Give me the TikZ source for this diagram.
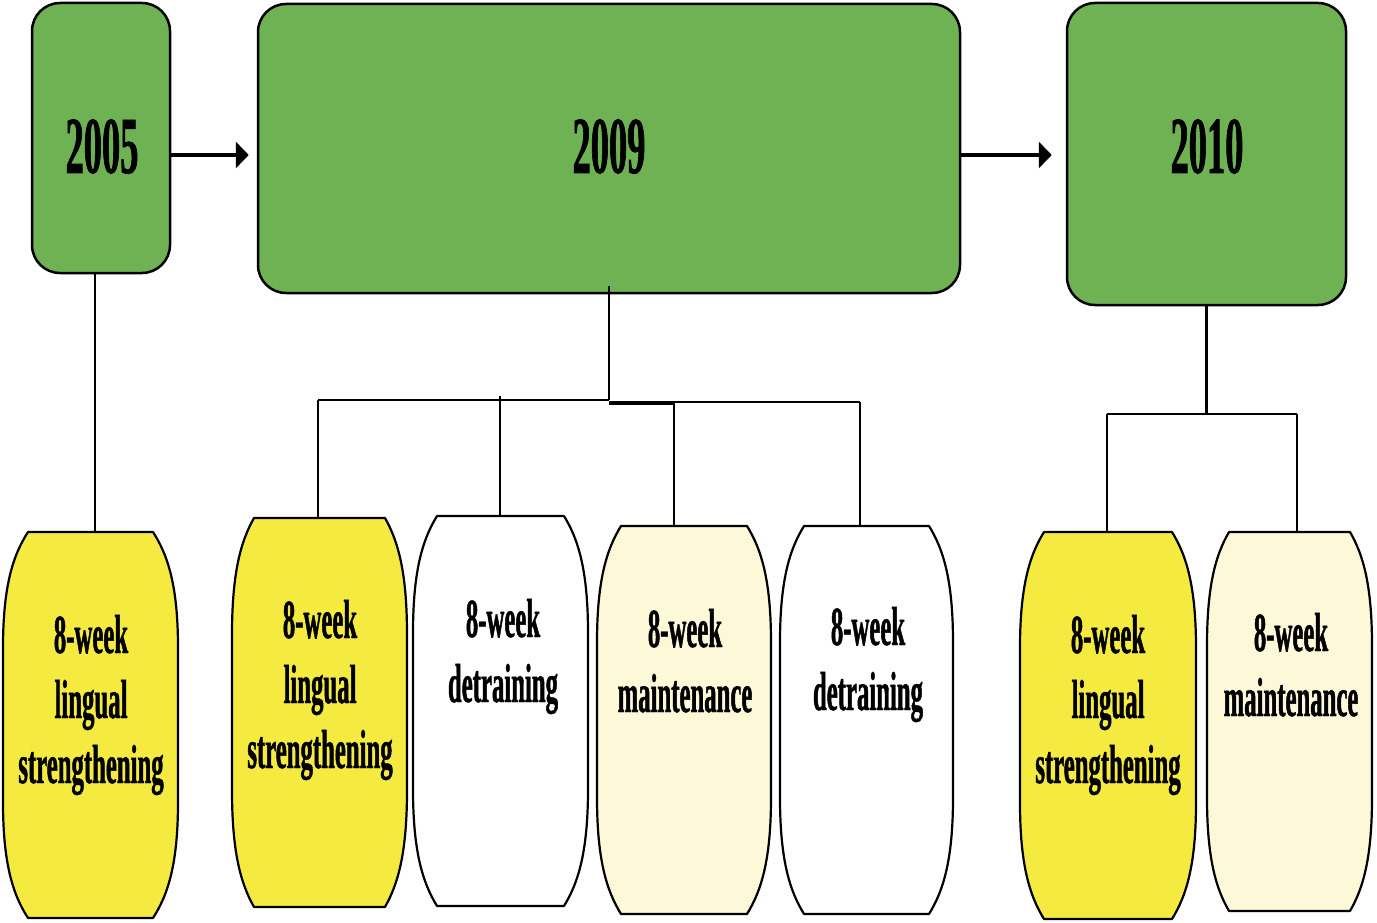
\documentclass[tikz,border=0pt]{standalone}
\usepackage{fontspec}
\newfontfamily\condbf[FakeStretch=0.45,FakeBold=0.8]{Liberation Serif Bold}
\usetikzlibrary{arrows.meta,calc}
\definecolor{boxgreen}{RGB}{111,178,84}
\definecolor{boxyellow}{RGB}{245,234,64}
\definecolor{boxcream}{RGB}{252,248,216}
% #1 xl, #2 xr, #3 top, #4 bottom, #5 inset, #6 fill, #7 name of top coordinate, #8 connector x
\newcommand\barrelshape[8]{%
  \pgfmathsetmacro\brlh{#4-#3}%
  \pgfmathsetmacro\brlxl{#1+#5}%
  \pgfmathsetmacro\brlxr{#2-#5}%
  \draw[barrel, fill=#6] (\brlxl,#3) -- (\brlxr,#3)
    .. controls (\brlxr+0.6*#5, #3+0.06*\brlh) and (#2, #3+0.14*\brlh) .. (#2, #3+0.3*\brlh)
    -- (#2, #4-0.3*\brlh)
    .. controls (#2, #4-0.14*\brlh) and (\brlxr+0.6*#5, #4-0.06*\brlh) .. (\brlxr,#4)
    -- (\brlxl,#4)
    .. controls (\brlxl-0.6*#5, #4-0.06*\brlh) and (#1, #4-0.14*\brlh) .. (#1, #4-0.3*\brlh)
    -- (#1, #3+0.3*\brlh)
    .. controls (#1, #3+0.14*\brlh) and (\brlxl-0.6*#5, #3+0.06*\brlh) .. cycle;
  \coordinate (#7) at (#8,#3);
}
\begin{document}
\begin{tikzpicture}[x=1pt,y=-1pt,
  yearbox/.style={draw=black, line width=2.5pt, fill=boxgreen, rounded corners=28pt, inner sep=0pt},
  yeartext/.style={inner sep=0pt, anchor=base, font=\condbf\fontsize{81}{90}\selectfont},
  barrel/.style={draw=black, line width=2.2pt, line join=round},
  steptext/.style={inner sep=0pt, anchor=base, font=\condbf\fontsize{55}{65}\selectfont},
  arr/.style={line width=4pt, -{Triangle[length=13pt,width=26pt]}},
  conn/.style={line width=1.6pt},
  connthick/.style={line width=2.8pt}]
\useasboundingbox (0,0) rectangle (1377,923);

% year boxes
\node[yearbox, minimum width=138pt, minimum height=270pt] (y2005) at (101,138) {};
\node[yearbox, minimum width=702pt, minimum height=289pt] (y2009) at (609,148.5) {};
\node[yearbox, minimum width=279pt, minimum height=302pt] (y2010) at (1206.5,154) {};
\node[yeartext] (t2005) at (102,173) {2005};
\node[yeartext] (t2009) at (609,173) {2009};
\node[yeartext] (t2010) at (1207,173) {2010};

% arrows
\coordinate (ay) at (0,155);
\draw[arr] (y2005.east |- ay) -- ($(y2009.west |- ay)+(-8,0)$);
\draw[arr] (y2009.east |- ay) -- ($(y2010.west |- ay)+(-14,0)$);

% barrels
\barrelshape{3}{178}{532}{918}{25}{boxyellow}{b1top}{95}
\barrelshape{232}{407}{518}{907}{22}{boxyellow}{b2top}{318}
\barrelshape{413}{588}{516}{906}{24}{white}{b3top}{500}
\barrelshape{597}{771}{526}{914}{24}{boxcream}{b4top}{674}
\barrelshape{780}{953}{526}{914}{24}{white}{b5top}{860}
\barrelshape{1020}{1196}{532}{919}{24}{boxyellow}{b6top}{1107}
\barrelshape{1207}{1372}{532}{911}{22}{boxcream}{b7top}{1297}

% barrel texts
\node[steptext] (s1) at (91,653) {\begin{tabular}[t]{@{}c@{}}8-week\\lingual\\strengthening\end{tabular}};
\node[steptext] (s2) at (320,638) {\begin{tabular}[t]{@{}c@{}}8-week\\lingual\\strengthening\end{tabular}};
\node[steptext] (s3) at (503,637) {\begin{tabular}[t]{@{}c@{}}8-week\\detraining\end{tabular}};
\node[steptext] (s4) at (685,647) {\begin{tabular}[t]{@{}c@{}}8-week\\maintenance\end{tabular}};
\node[steptext] (s5) at (868,645) {\begin{tabular}[t]{@{}c@{}}8-week\\detraining\end{tabular}};
\node[steptext] (s6) at (1108,653) {\begin{tabular}[t]{@{}c@{}}8-week\\lingual\\strengthening\end{tabular}};
\node[steptext] (s7) at (1291,651) {\begin{tabular}[t]{@{}c@{}}8-week\\maintenance\end{tabular}};

% 2005 connector
\draw[conn] (b1top |- y2005.south) -- (b1top);

% 2009 tree
\coordinate (j09) at (609,400);
\coordinate (j09r) at (609,402);
\draw[conn] ($(y2009.south)+(0,-8)$) -- (j09);
\draw[conn] (b2top |- j09) -- (j09);
\draw[conn] (j09r) -- (b5top |- j09r);
\draw[line width=3.5pt] (609,403) -- (b4top |- 0,403);
\draw[conn] (b2top |- j09) -- (b2top);
\draw[conn] ($(b3top |- j09)+(0,-4)$) -- (b3top);
\draw[conn] (b4top |- 0,403) -- (b4top);
\draw[conn] (b5top |- j09r) -- (b5top);

% 2010 tree
\coordinate (j10) at ($(y2010.south |- 0,414)$);
\draw[connthick] (y2010.south) -- (j10);
\draw[connthick] (b6top |- j10) -- (b7top |- j10);
\draw[connthick] (b6top |- j10) -- (b6top);
\draw[connthick] (b7top |- j10) -- (b7top);
\end{tikzpicture}
\end{document}
